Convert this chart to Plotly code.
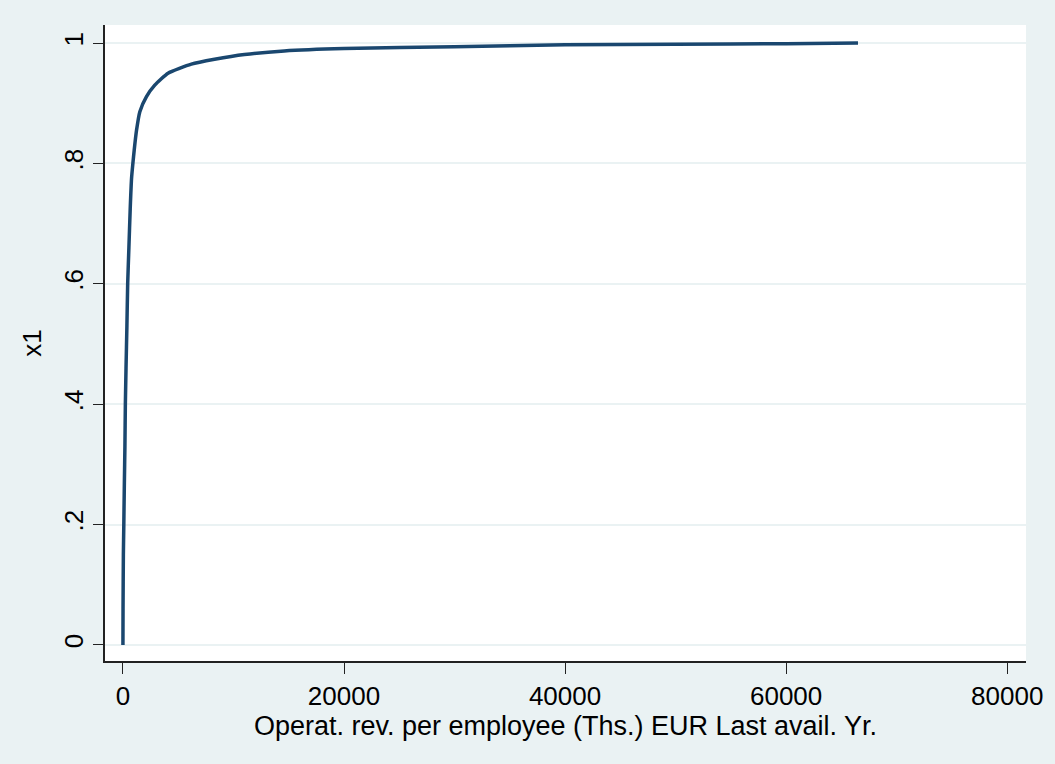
import plotly.graph_objects as go

# Cumulative distribution
rev_per_employee = [0, 10, 40, 80, 130, 180, 220, 280, 360, 430, 540, 660, 780, 900, 1020,
                    1230, 1530, 2130, 2880, 4080, 6190, 8290, 10990, 14590, 20000, 30000,
                    40000, 50000, 60000, 66500]
x1 = [0, 0.06, 0.15, 0.2, 0.27, 0.33, 0.40, 0.46, 0.53, 0.60, 0.66, 0.725, 0.775, 0.80,
      0.822, 0.855, 0.886, 0.911, 0.930, 0.950, 0.965, 0.973, 0.981, 0.987, 0.991, 0.994,
      0.997, 0.998, 0.999, 1.0]

x_ticks = [0, 20000, 40000, 60000, 80000]
y_ticks = [0, 0.2, 0.4, 0.6, 0.8, 1.0]
y_tick_text = ["0", ".2", ".4", ".6", ".8", "1"]

BG = "#EAF2F3"
LINE = "#1A476F"
FONT = "Arial, Liberation Sans, sans-serif"

fig = go.Figure()
fig.add_trace(go.Scatter(x=rev_per_employee, y=x1, mode="lines",
                         line=dict(color=LINE, width=3.5, shape="spline", smoothing=0.5)))

fig.update_layout(
    width=1055, height=764,
    paper_bgcolor=BG, plot_bgcolor="white",
    margin=dict(l=105, r=25, t=25, b=103),
    showlegend=False,
    font=dict(family=FONT, size=26, color="black"),
)
fig.update_xaxes(
    range=[-1622, 81700], tickvals=x_ticks, ticktext=[str(v) for v in x_ticks],
    showgrid=False, zeroline=False, showline=True, linecolor="#222222", linewidth=1.5,
    ticks="outside", ticklen=11, tickwidth=1.2, tickcolor="#222222",
    tickfont=dict(size=26),
    title=dict(text="Operat. rev. per employee (Ths.) EUR Last avail. Yr.", font=dict(size=27), standoff=0),
)
fig.update_yaxes(
    range=[-0.0266, 1.030], tickvals=y_ticks, ticktext=y_tick_text, tickangle=-90,
    showgrid=True, gridcolor=BG, gridwidth=2,
    zeroline=True, zerolinecolor=BG, zerolinewidth=2,
    showline=True, linecolor="#222222", linewidth=1.5,
    ticks="outside", ticklen=10, tickwidth=1.2, tickcolor="#222222",
    tickfont=dict(size=26),
    title=dict(text="x1", font=dict(size=26), standoff=10),
)

fig.write_html(
    "out.html",
    config={"displayModeBar": False},
    post_script="document.body.style.margin='0';document.body.style.background='#EAF2F3';",
)
